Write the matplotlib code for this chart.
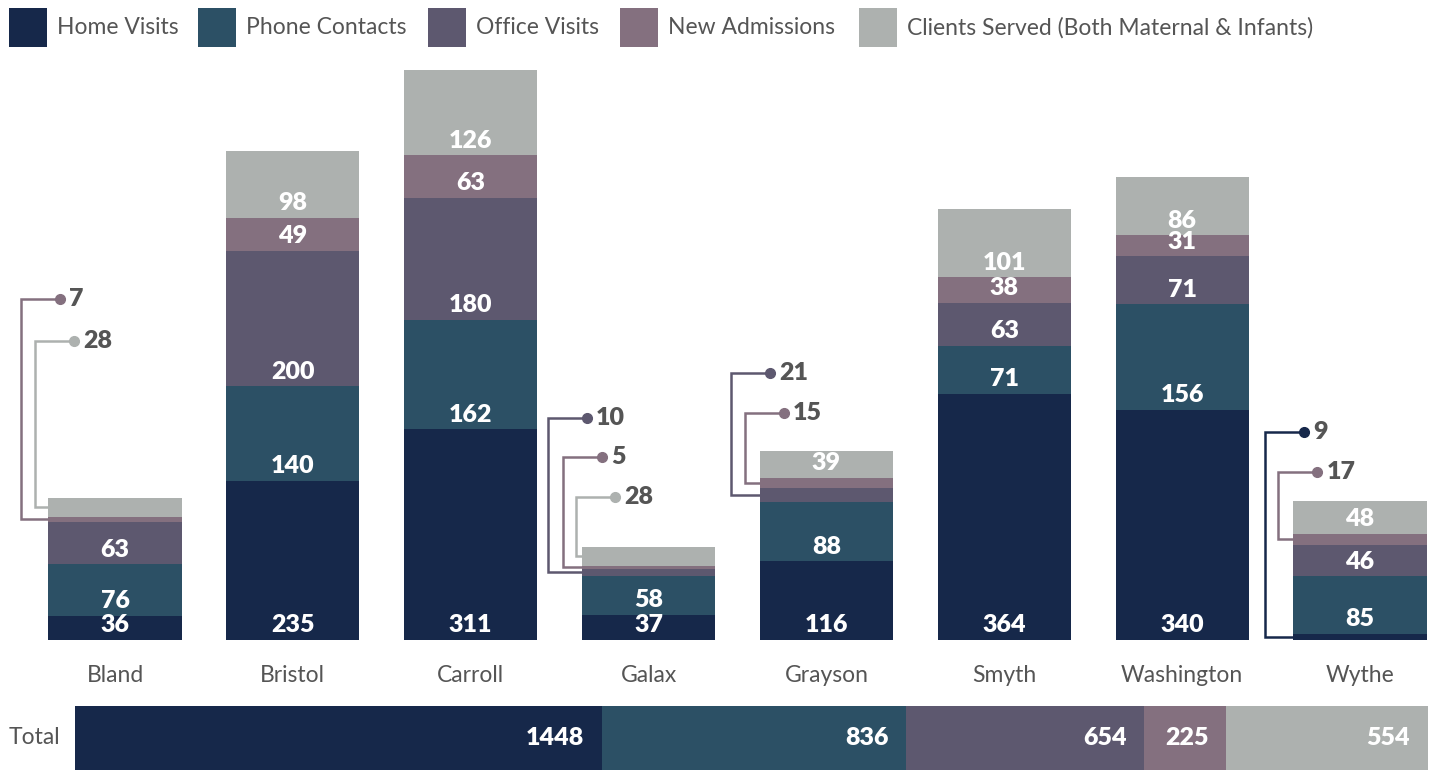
import matplotlib.pyplot as plt
from matplotlib.patches import Rectangle

plt.rcParams['font.family'] = ['Lato', 'DejaVu Sans']

counties = ['Bland', 'Bristol', 'Carroll', 'Galax', 'Grayson', 'Smyth', 'Washington', 'Wythe']
series = ['Home Visits', 'Phone Contacts', 'Office Visits', 'New Admissions',
          'Clients Served (Both Maternal & Infants)']
home_visits = [36, 235, 311, 37, 116, 364, 340, 9]
phone_contacts = [76, 140, 162, 58, 88, 71, 156, 85]
office_visits = [63, 200, 180, 10, 21, 63, 71, 46]
new_admissions = [7, 49, 63, 5, 15, 38, 31, 17]
clients_served = [28, 98, 126, 28, 39, 101, 86, 48]
values = [home_visits, phone_contacts, office_visits, new_admissions, clients_served]
totals = [sum(v) for v in values]

colors = ['#16284a', '#2c5065', '#5d586f', '#84707f', '#adb1af']
text_grey = '#555555'

# callout layout: county index -> (series index, line offset left of bar in px, label height)
callouts = {
    0: [(3, 27, 504), (4, 13, 442)],
    3: [(2, 34, 328), (3, 19, 270), (4, 6, 211)],
    4: [(2, 29, 394), (3, 15, 335)],
    7: [(0, 28, 307), (3, 15, 248)],
}

W, H = 1435, 770
fig = plt.figure(figsize=(W / 100, H / 100), dpi=100)

ax = fig.add_axes([0, 130 / H, 1, 570 / H])
ax.set_xlim(-0.6466, 7.4217)
ax.set_ylim(0, 842)
px = (7.4217 + 0.6466) / W  # data units per pixel in x
bw = 0.748

x = list(range(len(counties)))
bottoms = [0] * len(counties)
seg_mid = {}
for s, vals in enumerate(values):
    ax.bar(x, vals, bottom=bottoms, width=bw, color=colors[s], linewidth=0)
    for i, v in enumerate(vals):
        seg_mid[(i, s)] = bottoms[i] + v / 2
        if v >= 30:
            ax.annotate(str(v), (i, bottoms[i]), xytext=(0, 10.5), textcoords='offset points',
                        ha='center', va='center', color='white', fontsize=18,
                        fontweight='heavy')
    bottoms = [b + v for b, v in zip(bottoms, vals)]

for i, items in callouts.items():
    left = i - bw / 2
    for s, off, ly in items:
        xv = left - off * px
        xd = xv + 39 * px
        ax.plot([left, xv, xv, xd], [seg_mid[(i, s)], seg_mid[(i, s)], ly, ly],
                color=colors[s], lw=1.8, clip_on=False, solid_joinstyle='miter')
        ax.plot([xd], [ly], 'o', color=colors[s], ms=7, clip_on=False)
        ax.text(xd + 9 * px, ly, str(values[s][i]), ha='left', va='center',
                color=text_grey, fontsize=18, fontweight='heavy')

ax.set_xticks(x, counties)
ax.tick_params(axis='x', length=0, pad=18, labelsize=16.5, labelcolor=text_grey)
ax.set_yticks([])
for sp in ax.spines.values():
    sp.set_visible(False)
ax.patch.set_visible(False)

# total bar
ax2 = fig.add_axes([75 / W, 0, 1353 / W, 64 / H])
ax2.set_xlim(0, sum(totals))
ax2.set_ylim(-0.5, 0.5)
left = 0
for s, t in enumerate(totals):
    ax2.barh(0, t, left=left, height=1, color=colors[s], linewidth=0)
    ax2.annotate(str(t), (left + t, 0), xytext=(-13, 0), textcoords='offset points',
                 ha='right', va='center', color='white', fontsize=18, fontweight='heavy')
    left += t
ax2.axis('off')
fig.text(9 / W, 1 - 737 / H, 'Total', ha='left', va='center', fontsize=16.5, color=text_grey)

# legend
leg_x = [9, 198, 428, 620, 859]
for s, name in enumerate(series):
    x0 = leg_x[s]
    fig.add_artist(Rectangle((x0 / W, 1 - 47 / H), 38 / W, 39 / H,
                             transform=fig.transFigure, color=colors[s], linewidth=0))
    fig.text((x0 + 48) / W, 1 - 28 / H, name, ha='left', va='center',
             fontsize=16.5, color=text_grey)

fig.savefig('out.png', dpi=100)
